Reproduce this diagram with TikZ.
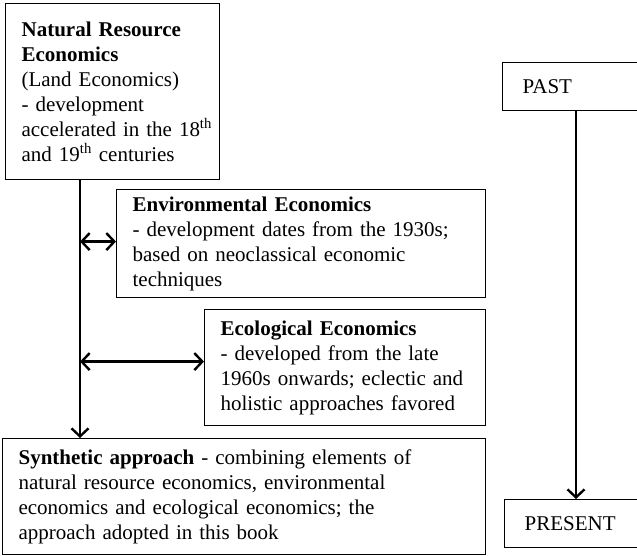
\documentclass[tikz,border=0pt]{standalone}
\usepackage{fontspec}
\setmainfont{Liberation Serif}
\usetikzlibrary{arrows.meta,positioning}

\tikzset{
	box/.style={draw, line width=1.2pt, inner xsep=16pt, inner ysep=0pt, align=left, anchor=north west, font=\fontsize{21}{25}\selectfont},
	timebox/.style={box, inner xsep=20pt, text width=120pt, minimum height=48pt},
	barb/.tip={Straight Barb[length=8pt,width=17pt,line width=2.4pt]},
	flow/.style={line width=2.8pt, -barb},
	link/.style={line width=2.8pt, barb-barb}
}

\begin{document}
\begin{tikzpicture}[x=1pt,y=-1pt]
	\useasboundingbox (0,0) rectangle (637,556);
	\clip (0,0) rectangle (637,556);
	% the schools of thought
	\node[box, text width=182pt, minimum height=176pt] (nre) at (5,3) {\textbf{Natural Resource}\\\textbf{Economics}\\(Land Economics)\\- development\\\mbox{accelerated in the 18\textsuperscript{th}}\\and 19\textsuperscript{th} centuries};
	\node[box, text width=337pt, minimum height=108pt] (env) at (116,189) {\textbf{Environmental Economics}\\- development dates from the 1930s;\\based on neoclassical economic\\techniques};
	\node[box, text width=249pt, minimum height=116pt] (eco) at (204,309) {\textbf{Ecological Economics}\\- developed from the late\\1960s onwards; eclectic and\\holistic approaches favored};
	\node[box, text width=451pt, minimum height=116pt] (synth) at (2,438) {\textbf{Synthetic approach} - combining elements of\\natural resource economics, environmental\\economics and ecological economics; the\\approach adopted in this book};
	% time axis
	\node[timebox] (past) at (502,62) {PAST};
	\node[timebox] (present) at (504,499) {PRESENT};

	\coordinate (trunk) at (80,0);
	\coordinate (timeline) at (576,0);
	\coordinate (envlvl) at ([yshift=2pt]env.west);
	\coordinate (ecolvl) at ([yshift=6pt]eco.west);

	\draw[flow] (nre.south -| trunk) -- (synth.north -| trunk);
	\draw[link] (envlvl -| trunk) -- (envlvl);
	\draw[link] (ecolvl -| trunk) -- (ecolvl);
	\draw[flow] (past.south -| timeline) -- (present.north -| timeline);
\end{tikzpicture}
\end{document}
